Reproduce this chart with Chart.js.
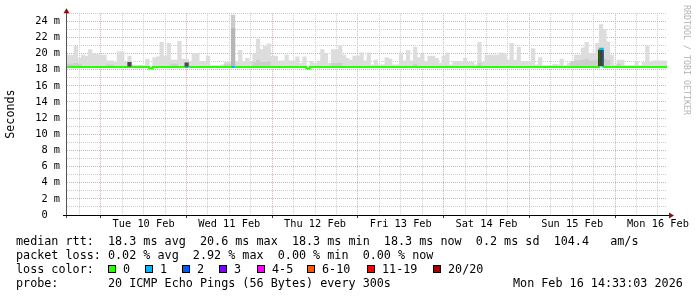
<!DOCTYPE html>
<html>
<head>
<meta charset="utf-8">
<title>SmokePing median rtt</title>
<script src="https://cdn.jsdelivr.net/npm/chart.js@4.4.1/dist/chart.umd.min.js"></script>
<style>
html, body { margin: 0; padding: 0; background: #fff; }
#graph { position: relative; width: 697px; height: 297px; overflow: hidden; font-family: "DejaVu Sans Mono", monospace; color: #000; }
#graph canvas { position: absolute; left: 0; top: 0; }
.line { position: absolute; left: 16px; white-space: pre; font-size: 11.76px; line-height: 14px; }
.box { position: absolute; top: 265px; width: 6px; height: 6px; border: 1px solid #000; }
.lab { position: absolute; top: 262px; white-space: pre; font-size: 11.76px; line-height: 14px; }
#mark { position: absolute; left: 692px; top: 5px; white-space: pre; font-size: 8.3px; line-height: 10px; color: #b4b4b4; transform-origin: 0 0; transform: rotate(90deg); }
</style>
</head>
<body>
<div id="graph">
  <canvas id="chart" width="697" height="297"></canvas>
  <div id="mark">RRDTOOL / TOBI OETIKER</div>
  <div class="line" style="top:234px">median rtt:  18.3 ms avg  20.6 ms max  18.3 ms min  18.3 ms now  0.2 ms sd  104.4   am/s</div>
  <div class="line" style="top:248px">packet loss: 0.02 % avg  2.92 % max  0.00 % min  0.00 % now</div>
  <div class="line" style="top:262px">loss color:</div>
  <div id="lossLegend"></div>
  <div class="line" style="top:276px">probe:       20 ICMP Echo Pings (56 Bytes) every 300s</div>
  <div class="line" style="top:276px; left:513px">Mon Feb 16 14:33:03 2026</div>
</div>
<script>
// one bucket per hour, Mon 9 Feb 14:33 -> Mon 16 Feb 14:33
const startMinute = 14 * 60 + 33;
const dayLabels = ['Tue 10 Feb', 'Wed 11 Feb', 'Thu 12 Feb', 'Fri 13 Feb', 'Sat 14 Feb', 'Sun 15 Feb', 'Mon 16 Feb'];

// median rtt per bucket (ms)
const medianRtt = [
    18.32, 18.32, 18.32, 18.32, 18.32, 18.32, 18.32, 18.32, 18.32, 18.32, 18.32, 18.32,
    18.32, 18.32, 18.32, 18.32, 18.32, 18.32, 18.32, 18.32, 18.32, 18.32, 18.32, 18.19,
    18.32, 18.32, 18.32, 18.32, 18.32, 18.32, 18.32, 18.32, 18.32, 18.32, 18.32, 18.32,
    18.32, 18.32, 18.32, 18.32, 18.32, 18.32, 18.32, 18.32, 18.32, 18.32, 18.32, 18.32,
    18.32, 18.32, 18.32, 18.32, 18.32, 18.32, 18.32, 18.32, 18.32, 18.32, 18.32, 18.32,
    18.32, 18.32, 18.32, 18.32, 18.32, 18.32, 18.32, 18.19, 18.32, 18.32, 18.32, 18.32,
    18.32, 18.32, 18.32, 18.32, 18.32, 18.32, 18.32, 18.32, 18.32, 18.32, 18.32, 18.32,
    18.32, 18.32, 18.32, 18.32, 18.32, 18.32, 18.32, 18.32, 18.32, 18.32, 18.32, 18.32,
    18.32, 18.32, 18.32, 18.32, 18.32, 18.32, 18.32, 18.32, 18.32, 18.32, 18.32, 18.32,
    18.32, 18.32, 18.32, 18.32, 18.32, 18.32, 18.32, 18.32, 18.32, 18.32, 18.32, 18.32,
    18.32, 18.32, 18.32, 18.32, 18.32, 18.32, 18.32, 18.32, 18.32, 18.32, 18.32, 18.32,
    18.32, 18.32, 18.32, 18.32, 18.32, 18.32, 18.32, 18.32, 18.32, 18.32, 18.32, 18.32,
    18.32, 18.32, 18.32, 18.32, 18.32, 20.60, 18.32, 18.32, 18.32, 18.32, 18.32, 18.32,
    18.32, 18.32, 18.32, 18.32, 18.32, 18.32, 18.32, 18.32, 18.32, 18.32, 18.32, 18.32
];

// lost pings out of 20 per bucket
const lossPings = [
    0, 0, 0, 0, 0, 0, 0, 0, 0, 0, 0, 0,
    0, 0, 0, 0, 0, 0, 0, 0, 0, 0, 0, 0,
    0, 0, 0, 0, 0, 0, 0, 0, 0, 1, 0, 0,
    0, 0, 0, 0, 0, 0, 0, 0, 0, 0, 1, 0,
    0, 0, 0, 0, 0, 0, 0, 0, 0, 0, 0, 0,
    0, 0, 0, 0, 0, 0, 0, 0, 0, 0, 0, 0,
    0, 0, 0, 0, 0, 0, 0, 0, 0, 0, 0, 0,
    0, 0, 0, 0, 0, 0, 0, 0, 0, 0, 0, 0,
    0, 0, 0, 0, 0, 0, 0, 0, 0, 0, 0, 0,
    0, 0, 0, 0, 0, 0, 0, 0, 0, 0, 0, 0,
    0, 0, 0, 0, 0, 0, 0, 0, 0, 0, 0, 0,
    0, 0, 0, 0, 0, 0, 0, 0, 0, 0, 0, 0,
    0, 0, 0, 0, 0, 1, 0, 0, 0, 0, 0, 0,
    0, 0, 0, 0, 0, 0, 0, 0, 0, 0, 0, 0
];

// slowest ping per bucket (top of the smoke, ms)
const smokeTop = [
    19.8, 19.8, 20.9, 19.4, 19.8, 19.7, 20.5, 20.0, 19.9, 19.8, 19.8, 19.1,
    19.1, 18.9, 20.2, 20.2, 19.0, 19.7, 18.6, 18.55, 18.55, 18.55, 19.3, 18.3,
    19.5, 19.6, 21.4, 19.7, 21.3, 19.2, 19.2, 21.5, 19.3, 19.3, 19.0, 20.0,
    20.0, 19.0, 19.0, 19.7, 18.5, 18.5, 18.5, 18.6, 18.9, 19.0, 24.75, 19.0,
    20.4, 19.0, 19.4, 19.0, 20.0, 21.8, 20.5, 20.9, 21.2, 19.7, 19.7, 19.1,
    19.1, 19.8, 19.1, 19.1, 19.6, 18.8, 19.6, 18.3, 19.0, 18.8, 19.1, 20.5,
    20.0, 18.8, 20.5, 20.5, 21.0, 19.8, 19.4, 19.2, 19.7, 19.7, 20.1, 19.1,
    20.1, 18.6, 19.2, 18.6, 18.6, 19.5, 19.3, 18.6, 18.6, 20.1, 19.1, 20.4,
    19.1, 20.8, 19.5, 19.9, 19.0, 19.7, 19.7, 19.4, 18.8, 19.7, 20.1, 18.6,
    19.0, 19.0, 19.0, 19.4, 18.9, 18.9, 18.6, 21.4, 18.9, 19.8, 19.8, 19.8,
    19.8, 20.1, 20.0, 19.2, 21.25, 19.2, 20.8, 19.0, 19.0, 19.0, 20.6, 18.6,
    19.5, 18.5, 18.5, 18.5, 18.7, 18.6, 19.3, 18.5, 18.8, 18.8, 19.8, 19.8,
    20.7, 21.4, 20.0, 20.0, 21.25, 23.6, 23.0, 21.45, 19.8, 18.6, 19.2, 19.2,
    18.5, 18.5, 18.5, 19.0, 18.5, 18.9, 20.9, 18.9, 19.1, 19.1, 19.1, 19.1
];
const smokeFloor = 18.3;

// denser (darker) part of the smoke
const midIdx = [0, 1, 2, 3, 11, 12, 29, 30, 44, 45, 46, 52, 53, 54, 55, 56, 74, 75, 76, 97, 115, 141, 142, 143, 144, 145, 146, 147, 148, 150, 151, 154];
const midTop = [18.7, 18.7, 18.8, 18.7, 18.6, 18.6, 18.7, 18.7, 18.7, 18.7, 23.1, 18.9, 19.2, 18.9, 18.9, 19.0, 18.8, 18.8, 18.8, 18.7, 18.8, 19.0, 19.1, 19.1, 19.2, 19.3, 19.1, 19.1, 19.2, 19.3, 19.2, 18.7];

// buckets where almost all pings were equal
const denseIdx = [17, 33];
const denseLow = [18.45, 18.45];
const denseHigh = [18.9, 18.85];

// the one bucket where the median itself jumped
const jumpIdx = [149];
const jumpLow = [18.44];
const jumpHigh = [20.48];

const lossLabels = ['0', '1', '2', '3', '4-5', '6-10', '11-19', '20/20'];
const lossUpTo = [0, 1, 2, 3, 5, 10, 19, 20];
const lossColors = ['#26ff00', '#00b8ff', '#0059ff', '#7e00ff', '#ff00ff', '#ff5500', '#ff0000', '#a10000'];

function lossColor(n) {
    for (let k = 0; k < lossUpTo.length; k++) {
        if (n <= lossUpTo[k]) return lossColors[k];
    }
    return lossColors[lossColors.length - 1];
}

// legend boxes
const boxLeft = [108, 145, 182, 219, 257, 307, 367, 433];
const legend = document.getElementById('lossLegend');
lossLabels.forEach(function (lab, k) {
    const b = document.createElement('div');
    b.className = 'box';
    b.style.left = boxLeft[k] + 'px';
    b.style.background = lossColors[k];
    legend.appendChild(b);
    const t = document.createElement('div');
    t.className = 'lab';
    t.style.left = (boxLeft[k] + 15) + 'px';
    t.textContent = lab;
    legend.appendChild(t);
});

// grid every 6 hours of clock time
const gridMinutes = [];
for (let m = 18 * 60; m < startMinute + medianRtt.length * 60; m += 360) gridMinutes.push(m);
const gridHours = gridMinutes.map(m => (m - startMinute) / 60);

const majorGrid = 'rgb(238, 166, 166)';
const minorGrid = 'rgb(204, 204, 204)';
const monoFont = '"DejaVu Sans Mono", monospace';

const rrdAxes = {
    id: 'rrdAxes',
    afterDraw(chart) {
        const c = chart.ctx, a = chart.chartArea;
        c.save();
        c.lineWidth = 1;
        c.strokeStyle = '#555';
        c.beginPath();
        c.moveTo(a.left - 0.5, a.bottom + 3);
        c.lineTo(a.left - 0.5, a.top - 3);
        c.stroke();
        c.strokeStyle = '#000';
        c.beginPath();
        c.moveTo(a.left - 4, a.bottom + 0.5);
        c.lineTo(a.right + 2, a.bottom + 0.5);
        c.stroke();
        c.fillStyle = '#8b1111';
        c.beginPath();
        c.moveTo(a.left - 3.5, a.top);
        c.lineTo(a.left + 2.5, a.top);
        c.lineTo(a.left - 0.5, a.top - 5);
        c.closePath();
        c.fill();
        c.beginPath();
        c.moveTo(a.right + 2, a.bottom - 2.5);
        c.lineTo(a.right + 2, a.bottom + 3.5);
        c.lineTo(a.right + 7, a.bottom + 0.5);
        c.closePath();
        c.fill();
        c.restore();
    }
};

const medianData = medianRtt.map((v, i) => ({ x: i, y: v }));
medianData.push({ x: medianRtt.length, y: medianRtt[medianRtt.length - 1] });

new Chart(document.getElementById('chart'), {
    type: 'bar',
    data: {
        datasets: [{
            type: 'line',
            label: 'median rtt',
            data: medianData,
            stepped: true,
            borderWidth: 2,
            borderColor: lossColors[0],
            pointRadius: 0,
            segment: {
                borderColor: ctx => lossColor(lossPings[ctx.p0DataIndex])
            },
            order: 2
        }, {
            label: 'median jump',
            data: jumpIdx.map((i, k) => ({ x: i + 0.5, y: [jumpLow[k], jumpHigh[k]] })),
            backgroundColor: '#404040',
            borderColor: '#111',
            borderWidth: { left: 1, right: 1, top: 0, bottom: 0 },
            borderSkipped: false,
            barPercentage: 1.55,
            order: 0
        }, {
            label: 'dense',
            data: denseIdx.map((i, k) => ({ x: i + 0.5, y: [denseLow[k], denseHigh[k]] })),
            backgroundColor: '#4a4a4a',
            order: 1
        }, {
            label: 'smoke mid',
            data: midIdx.map((i, k) => ({ x: i + 0.5, y: [smokeFloor, midTop[k]] })),
            backgroundColor: ctx => (ctx.raw && ctx.raw.y[1] > 22 ? '#b6b6b6' : '#cdcdcd'),
            order: 3
        }, {
            label: 'smoke',
            data: smokeTop.map((v, i) => ({ x: i + 0.5, y: [smokeFloor, v] })),
            backgroundColor: ctx => (ctx.raw && ctx.raw.y[1] > 24 ? '#cbcbcb' : '#dddddd'),
            order: 4
        }]
    },
    options: {
        responsive: false,
        animation: false,
        layout: { padding: { top: 13, right: 30, left: 0, bottom: 0 } },
        plugins: { legend: { display: false }, tooltip: { enabled: false } },
        datasets: {
            bar: { grouped: false, barPercentage: 1, categoryPercentage: 1, borderWidth: 0 }
        },
        scales: {
            x: {
                type: 'linear',
                min: 0,
                max: medianRtt.length,
                offset: false,
                afterBuildTicks: s => { s.ticks = gridHours.map(v => ({ value: v })); },
                afterFit: s => { s.height = 82; },
                grid: {
                    offset: false,
                    lineWidth: 1,
                    tickLength: 3,
                    color: c => (gridMinutes[c.index] % 1440 === 0 ? majorGrid : minorGrid),
                    tickColor: c => (gridMinutes[c.index] % 1440 === 0 ? '#333' : 'rgba(0,0,0,0)')
                },
                border: { display: false, dash: [1, 1] },
                ticks: {
                    autoSkip: false,
                    maxRotation: 0,
                    padding: 0,
                    color: '#000',
                    font: { family: monoFont, size: 10.3 },
                    callback: (v, i) => {
                        const m = gridMinutes[i];
                        return m % 1440 === 720 ? dayLabels[Math.floor(m / 1440) - 1] : '';
                    }
                }
            },
            y: {
                min: 0,
                max: 25,
                afterFit: s => { s.width = 67; },
                grid: {
                    lineWidth: 1,
                    drawTicks: false,
                    color: c => (c.tick && c.tick.value % 2 === 0 ? majorGrid : minorGrid)
                },
                border: { display: false, dash: [1, 1] },
                ticks: {
                    stepSize: 1,
                    autoSkip: false,
                    padding: 7,
                    color: '#000',
                    font: { family: monoFont, size: 10.3 },
                    callback: v => (v % 2 ? '' : (v === 0 ? '0  ' : v + ' m'))
                },
                title: {
                    display: true,
                    text: 'Seconds',
                    color: '#000',
                    font: { family: monoFont, size: 11.7 },
                    padding: { top: 4, bottom: 0 }
                }
            }
        }
    },
    plugins: [rrdAxes]
});
</script>
</body>
</html>
